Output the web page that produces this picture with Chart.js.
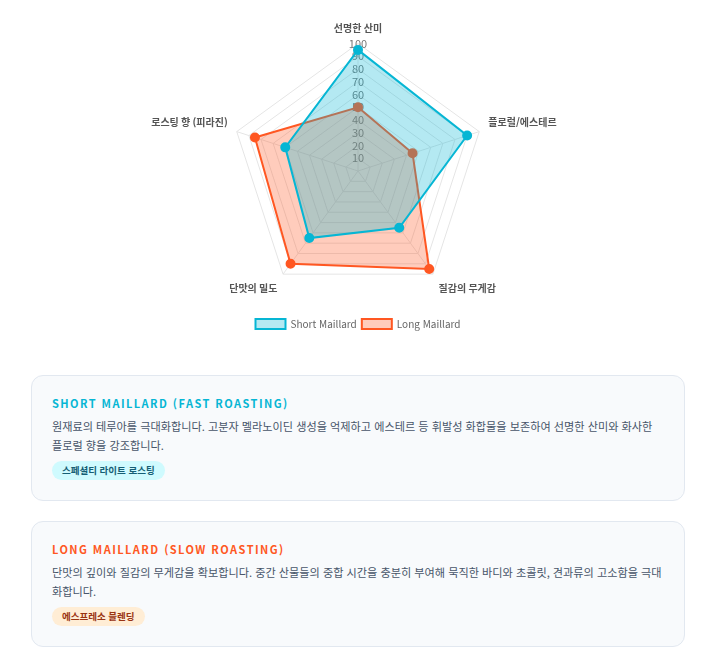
<!DOCTYPE html>
<html lang="ko">
<head>
<meta charset="utf-8">
<script src="https://cdn.jsdelivr.net/npm/chart.js@4.4.1/dist/chart.umd.min.js"></script>
<style>
  body { margin: 0; background: #fff; font-family: "Noto Sans CJK KR", "Noto Sans", sans-serif; }
  .wrap { width: 654px; margin-left: 31px; }
  .chart-box { position: relative; height: 339px; width: 654px; }
  .card { background: #f8fafc; border: 1px solid #e2e8f0; border-radius: 12px; padding: 18px 20px 20px 20px; margin-top: 36px; }
  .card + .card { margin-top: 20px; }
  .card h3 { margin: 0 0 5px 0; font-size: 11px; font-weight: 700; letter-spacing: 1.45px; line-height: 18px; }
  .card p { margin: 0 0 6px 0; font-size: 11.15px; line-height: 19px; color: #475569; }
  .tags { display: flex; }
  .badge { font-size: 9.5px; font-weight: 700; padding: 2px 10px; border-radius: 10px; line-height: 15px; }
  .short h3 { color: #06b6d4; }
  .short .badge { background: #cffafe; color: #155e75; }
  .long h3 { color: #ff5722; }
  .long .badge { background: #ffedd5; color: #9a3412; }
</style>
</head>
<body>
<div class="wrap">
  <div class="chart-box"><canvas id="radar"></canvas></div>
  <div class="card short">
    <h3>SHORT MAILLARD (FAST ROASTING)</h3>
    <p>원재료의 테루아를 극대화합니다. 고분자 멜라노이딘 생성을 억제하고 에스테르 등 휘발성 화합물을 보존하여 선명한 산미와 화사한 플로럴 향을 강조합니다.</p>
    <div class="tags"><span class="badge">스페셜티 라이트 로스팅</span></div>
  </div>
  <div class="card long">
    <h3>LONG MAILLARD (SLOW ROASTING)</h3>
    <p>단맛의 깊이와 질감의 무게감을 확보합니다. 중간 산물들의 중합 시간을 충분히 부여해 묵직한 바디와 초콜릿, 견과류의 고소함을 극대화합니다.</p>
    <div class="tags"><span class="badge">에스프레소 블렌딩</span></div>
  </div>
</div>
<script>
// axis labels and values
const labels = ["선명한 산미", "플로럴/에스테르", "질감의 무게감", "단맛의 밀도", "로스팅 향 (피라진)"];
const shortMaillard = [95, 90, 55, 65, 60];
const longMaillard = [50, 45, 95, 90, 85];

const cyan = "#06b6d4";
const orange = "#ff5722";

Chart.defaults.font.family = '"Noto Sans CJK KR", "Noto Sans", sans-serif';

new Chart(document.getElementById("radar"), {
  type: "radar",
  data: {
    labels: labels,
    datasets: [
      { label: "Short Maillard", data: shortMaillard, borderColor: cyan, backgroundColor: "rgba(6, 182, 212, 0.3)",
        pointBackgroundColor: cyan, pointBorderColor: cyan, borderWidth: 2, pointRadius: 4 },
      { label: "Long Maillard", data: longMaillard, borderColor: orange, backgroundColor: "rgba(255, 87, 34, 0.3)",
        pointBackgroundColor: orange, pointBorderColor: orange, borderWidth: 2, pointRadius: 4 }
    ]
  },
  options: {
    responsive: true,
    maintainAspectRatio: false,
    animation: false,
    layout: { padding: { top: 16 } },
    scales: {
      r: {
        min: 0, max: 100,
        ticks: { stepSize: 10, showLabelBackdrop: false, color: "#777", font: { size: 11 } },
        grid: { color: "#e5e5e5" },
        angleLines: { color: "#e5e5e5" },
        pointLabels: { padding: 2, color: "#555", font: { size: 10, weight: "bold" } }
      }
    },
    plugins: {
      legend: { position: "bottom", labels: { boxWidth: 30, boxHeight: 10, padding: 5, color: "#666", font: { size: 10 } } }
    }
  }
});
</script>
</body>
</html>
